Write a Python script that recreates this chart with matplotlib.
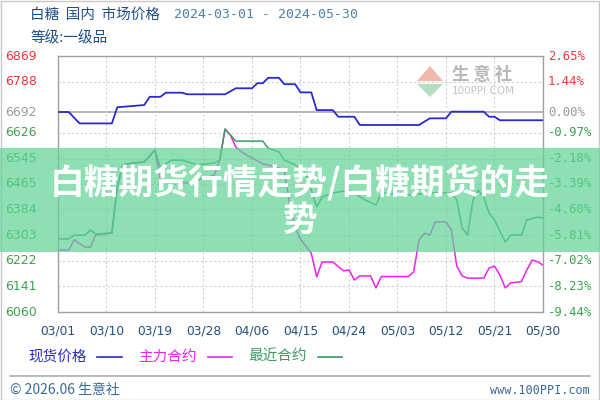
import matplotlib
matplotlib.use("Agg")
import matplotlib.pyplot as plt
import matplotlib.transforms as mtransforms
from matplotlib.patches import Rectangle, Polygon
from matplotlib.lines import Line2D
import pandas as pd

plt.rcParams['font.family'] = ['DejaVu Sans', 'Noto Sans CJK SC']

# ---------------- data ----------------
spot_dates = ['03/01', '03/03', '03/05', '03/11', '03/12', '03/17', '03/18', '03/20', '03/21',
              '03/24', '03/25', '04/01', '04/03', '04/06', '04/07', '04/08', '04/09', '04/11',
              '04/12', '04/14', '04/15', '04/17', '04/18', '04/21', '04/22', '04/25', '04/26',
              '05/07', '05/09', '05/12', '05/13', '05/19', '05/20', '05/21', '05/22', '05/30']
spot_values = [6692, 6692, 6656, 6656, 6707, 6714, 6740, 6740, 6753,
               6753, 6748, 6748, 6767, 6767, 6783, 6783, 6800, 6800,
               6780, 6780, 6754, 6754, 6698, 6698, 6677, 6677, 6651,
               6651, 6672, 6672, 6693, 6693, 6677, 6677, 6666, 6666]

main_dates = ['03/01', '03/03', '03/04', '03/06', '03/07', '03/08', '03/11', '03/12', '03/13',
              '03/15', '03/17', '03/19', '03/20', '03/22', '03/25', '03/27', '03/30', '03/31',
              '04/01', '04/02', '04/03', '04/04', '04/06', '04/08', '04/10', '04/12', '04/13',
              '04/14', '04/15', '04/17', '04/18', '04/19', '04/21', '04/23', '04/24', '04/25',
              '04/26', '04/28', '04/29', '04/30', '05/05', '05/06', '05/07', '05/08', '05/09',
              '05/10', '05/12', '05/13', '05/14', '05/15', '05/16', '05/19', '05/20', '05/21',
              '05/22', '05/23', '05/24', '05/26', '05/27', '05/28', '05/29', '05/30']
main_values = [6256, 6256, 6288, 6265, 6265, 6303, 6310, 6455, 6525,
               6531, 6534, 6572, 6477, 6471, 6468, 6477, 6493, 6540,
               6638, 6619, 6581, 6566, 6547, 6528, 6521, 6509, 6398,
               6325, 6290, 6246, 6171, 6218, 6218, 6190, 6193, 6161,
               6174, 6174, 6136, 6172, 6172, 6187, 6288, 6309, 6303,
               6345, 6345, 6319, 6205, 6174, 6167, 6167, 6199, 6205,
               6177, 6136, 6152, 6156, 6193, 6224, 6219, 6208]

near_dates = ['03/01', '03/03', '03/04', '03/06', '03/07', '03/08', '03/11', '03/12', '03/13',
              '03/15', '03/17', '03/19', '03/20', '03/22', '03/24', '03/27', '03/30', '03/31',
              '04/01', '04/02', '04/03', '04/08', '04/09', '04/11', '04/12', '04/14', '04/16',
              '04/17', '04/18', '04/19', '04/21', '04/24', '04/27', '04/29', '04/30', '05/05',
              '05/09', '05/13', '05/14', '05/15', '05/16', '05/17', '05/18', '05/19', '05/20',
              '05/21', '05/23', '05/24', '05/26', '05/27', '05/29', '05/30']
near_values = [6291, 6291, 6303, 6303, 6319, 6306, 6310, 6455, 6525,
               6531, 6534, 6572, 6515, 6540, 6540, 6525, 6531, 6540,
               6638, 6619, 6600, 6600, 6578, 6566, 6540, 6525, 6499,
               6446, 6392, 6423, 6436, 6445, 6414, 6398, 6436, 6430,
               6436, 6436, 6414, 6325, 6303, 6414, 6445, 6423, 6373,
               6351, 6281, 6303, 6303, 6351, 6360, 6357]

left_labels = ['6869', '6788', '6692', '6626', '6545', '6465', '6384', '6303', '6222', '6141', '6060']
right_labels = ['2.65%', '1.44%', '0.00%', '-0.97%', '-2.18%', '-3.39%', '-4.60%', '-5.81%',
                '-7.02%', '-8.23%', '-9.44%']
base_price = 6692
x_tick_labels = ['03/01', '03/10', '03/19', '03/28', '04/06', '04/15', '04/24', '05/03',
                 '05/12', '05/21', '05/30']

def to_dt(lst):
    return pd.to_datetime(['2024/' + d for d in lst], format='%Y/%m/%d')

# ---------------- figure ----------------
fig = plt.figure(figsize=(6, 4), dpi=100)
W, H = 600.0, 400.0
ax = fig.add_axes([58 / W, 1 - 312 / H, (543 - 58) / W, (312 - 56) / H])
ax.set_xlim(to_dt(['03/01'])[0], to_dt(['05/30'])[0])
ax.set_ylim(6060, 6869)
for s in ax.spines.values():
    s.set_color('#a0a0a0')
    s.set_linewidth(1.0)
ax.set_xticks([])
ax.set_yticks([])

# grid
for lab in left_labels[1:-1]:
    v = float(lab)
    if v == base_price:
        ax.axhline(v, color='#a8a8a8', lw=1.2, zorder=1)
    else:
        ax.axhline(v, color='#cfcfcf', lw=0.8, ls=(0, (2, 2)), zorder=1)
for d in to_dt(x_tick_labels)[1:-1]:
    ax.axvline(d, color='#cfcfcf', lw=0.8, ls=(0, (2, 2)), zorder=1)

# watermark logo
tw = ax.transAxes
def fx(px):
    return (px - 58) / (543 - 58)
def fy(py):
    return 1 - (py - 56) / (312 - 56)
ax.add_patch(Polygon([[fx(417), fy(81)], [fx(430), fy(66)], [fx(443), fy(81)]], closed=True,
                     transform=tw, facecolor='#f2b8ae', edgecolor='none', zorder=1.5))
ax.add_patch(Polygon([[fx(417), fy(84)], [fx(430), fy(97)], [fx(443), fy(84)]], closed=True,
                     transform=tw, facecolor='#b6dec4', edgecolor='none', zorder=1.5))
ax.text(fx(452), fy(75), '生 意 社', transform=tw, fontsize=12.5, fontweight='bold',
        color='#b8b8b8', family=['Noto Sans CJK SC'], va='center', ha='left', zorder=1.5)
ax.text(fx(452), fy(91), '100PPI.COM', transform=tw, fontsize=7.5, color='#c4c4c4',
        va='center', ha='left', zorder=1.5)

# series
c_spot = '#2a2ad0'
c_main = '#ee22ee'
c_near = '#3e9a62'
ax.plot(to_dt(spot_dates), spot_values, color=c_spot, lw=1.3, zorder=3)
ax.plot(to_dt(main_dates), main_values, color=c_main, lw=1.1, zorder=3)
ax.plot(to_dt(near_dates), near_values, color=c_near, lw=1.1, zorder=4)

# y labels
tl = mtransforms.blended_transform_factory(fig.transFigure, ax.transData)
for lab, rlab in zip(left_labels, right_labels):
    v = float(lab)
    if v > base_price:
        col = '#e8383a'
    elif v == base_price:
        col = '#9a9a9a'
    else:
        col = '#3aa250'
    ax.text(5 / W, v, lab, transform=tl, fontsize=9, color=col, ha='left', va='center',
            clip_on=False, family=['DejaVu Sans'])
    ax.text(548 / W, v, rlab, transform=tl, fontsize=8.8, color=col, ha='left', va='center',
            clip_on=False, family=['DejaVu Sans Mono'])

# x labels
txl = mtransforms.blended_transform_factory(ax.transData, fig.transFigure)
for d, lab in zip(to_dt(x_tick_labels), x_tick_labels):
    ax.text(d, 1 - 331 / H, lab, transform=txl, fontsize=8.8, color='#24507e',
            ha='center', va='center', clip_on=False)

# header
cjk = ['Noto Sans CJK SC', 'DejaVu Sans']
fig.text(30 / W, 1 - 15 / H, '白糖  国内  市场价格', fontsize=10.5, color='#1f4f8a',
         family=cjk, ha='left', va='center')
fig.text(174 / W, 1 - 15 / H, '2024-03-01 - 2024-05-30', fontsize=9.5, color='#4f80aa',
         family=['DejaVu Sans Mono'], ha='left', va='center')
fig.text(30 / W, 1 - 38 / H, '等级:一级品', fontsize=10.5, color='#1f4f8a',
         family=cjk, ha='left', va='center')

# legend
ly = 1 - 357 / H
fig.text(28 / W, ly, '现货价格', fontsize=10.5, color=c_spot, family=cjk, ha='left', va='center')
fig.add_artist(Line2D([97 / W, 122 / W], [ly, ly], color=c_spot, lw=1.2))
fig.text(138 / W, ly, '主力合约', fontsize=10.5, color=c_main, family=cjk, ha='left', va='center')
fig.add_artist(Line2D([208 / W, 232 / W], [ly, ly], color=c_main, lw=1.2))
fig.text(248 / W, ly, '最近合约', fontsize=10.5, color=c_near, family=cjk, ha='left', va='center')
fig.add_artist(Line2D([318 / W, 342 / W], [ly, ly], color=c_near, lw=1.2))

# footer
fig.add_artist(Line2D([10 / W, 590 / W], [1 - 376 / H, 1 - 376 / H], color='#b0b0b0', lw=1.2))
fig.text(10 / W, 1 - 390 / H, '© 2026.06 生意社', fontsize=10, color='#3a6a9a', family=cjk,
         ha='left', va='center')
fig.text(590 / W, 1 - 390 / H, 'www.100PPI.com', fontsize=8.5, color='#3a6a9a',
         family=['DejaVu Sans Mono'], ha='right', va='center')

# outer border
fig.add_artist(Rectangle((0.5 / W, 0.5 / H), 1 - 1.5 / W, 1 - 1.5 / H, transform=fig.transFigure,
                         fill=False, edgecolor='#c8c8c8', lw=1.0, zorder=0.5))

# banner overlay
fig.add_artist(Rectangle((0, 1 - 252 / H), 1, 104 / H, transform=fig.transFigure,
                         facecolor='#5fd394', alpha=0.7, edgecolor='none', zorder=5))
fig.text(0.5, 1 - 182 / H, '白糖期货行情走势/白糖期货的走', fontsize=25, fontweight='bold',
         color='white', family=cjk, ha='center', va='center', zorder=6)
fig.text(0.5, 1 - 220 / H, '势', fontsize=25, fontweight='bold',
         color='white', family=cjk, ha='center', va='center', zorder=6)

fig.savefig('out.png', dpi=100)
